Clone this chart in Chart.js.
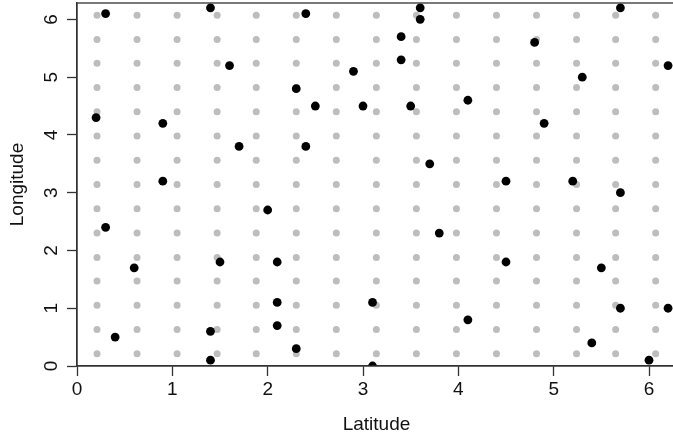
<!DOCTYPE html>
<html>
<head>
<meta charset="utf-8">
<script src="https://cdn.jsdelivr.net/npm/chart.js@4/dist/chart.umd.min.js"></script>
<style>
  html, body { margin: 0; padding: 0; background: #fff; overflow: hidden; }
  #wrap { width: 676px; height: 440px; }
</style>
</head>
<body>
<div id="wrap"><canvas id="plot" width="676" height="440"></canvas></div>
<script>
// puntos observados (latitud, longitud)
var lat = [0.3, 1.4, 1.6, 0.2, 0.9, 1.7, 0.9, 0.3, 0.6, 1.5, 0.4, 1.4, 1.4,
           2.4, 3.6, 3.6, 3.4, 3.4, 2.9, 2.3, 2.5, 3.0, 3.5, 4.1, 2.4, 3.7,
           2.0, 3.8, 2.1, 2.1, 2.1, 2.3, 3.1, 3.1, 4.1,
           5.7, 4.8, 6.2, 5.3, 4.9, 4.5, 5.2, 5.7,
           4.5, 5.5, 5.7, 6.2, 5.4, 6.0];
var lon = [6.1, 6.2, 5.2, 4.3, 4.2, 3.8, 3.2, 2.4, 1.7, 1.8, 0.5, 0.6, 0.1,
           6.1, 6.2, 6.0, 5.7, 5.3, 5.1, 4.8, 4.5, 4.5, 4.5, 4.6, 3.8, 3.5,
           2.7, 2.3, 1.8, 1.1, 0.7, 0.3, 1.1, 0.0, 0.8,
           6.2, 5.6, 5.2, 5.0, 4.2, 3.2, 3.2, 3.0,
           1.8, 1.7, 1.0, 1.0, 0.4, 0.1];

// centros de la rejilla (columnas y filas)
var gridCols = [0.21, 0.63, 1.05, 1.47, 1.88, 2.30, 2.72, 3.14, 3.56, 3.98, 4.40, 4.82, 5.24, 5.65, 6.07];
var gridRows = [0.21, 0.63, 1.05, 1.47, 1.88, 2.30, 2.72, 3.14, 3.56, 3.98, 4.40, 4.82, 5.24, 5.65, 6.07];

var axisMax = 6.2832;

var puntos = lat.map(function (v, i) { return { x: v, y: lon[i] }; });
var rejilla = [];
gridCols.forEach(function (cx) {
    gridRows.forEach(function (cy) { rejilla.push({ x: cx, y: cy }); });
});

var fuente = { family: "'Liberation Sans', Arial, sans-serif", size: 19 };

// quitar el relleno automatico de las escalas
function sinRelleno(s) {
    s.paddingTop = 0; s.paddingBottom = 0; s.paddingLeft = 0; s.paddingRight = 0;
}

// caja alrededor del area de dibujo
var cajaPlugin = {
    id: 'caja',
    afterDatasetsDraw: function (chart) {
        var a = chart.chartArea, c = chart.ctx;
        c.save();
        c.strokeStyle = '#333';
        c.lineWidth = 1.3;
        c.strokeRect(a.left, a.top, a.right - a.left, a.bottom - a.top);
        c.restore();
    }
};

new Chart(document.getElementById('plot').getContext('2d'), {
    type: 'scatter',
    data: {
        datasets: [{
            data: puntos,
            backgroundColor: '#000',
            borderWidth: 0,
            pointRadius: 4.4,
            clip: 0
        }, {
            data: rejilla,
            backgroundColor: '#bdbdbd',
            borderWidth: 0,
            pointRadius: 3.5,
            clip: 0
        }]
    },
    options: {
        responsive: false,
        animation: false,
        layout: { autoPadding: false, padding: { top: 3, right: 0, left: 0, bottom: 0 } },
        plugins: { legend: { display: false }, tooltip: { enabled: false } },
        scales: {
            x: {
                type: 'linear',
                min: 0,
                max: axisMax,
                afterFit: function (s) { s.height = 74; sinRelleno(s); },
                grid: { drawOnChartArea: false, tickLength: 10, tickColor: '#333', tickWidth: 1.3 },
                border: { color: '#333', width: 1.3 },
                ticks: { stepSize: 1, includeBounds: false, color: '#111', font: fuente, padding: 2.6, maxRotation: 0 },
                title: { display: true, text: 'Latitude', color: '#111', font: fuente, padding: { top: 0, bottom: 3.6 } }
            },
            y: {
                type: 'linear',
                min: 0,
                max: axisMax,
                afterFit: function (s) { s.width = 77; sinRelleno(s); },
                grid: { drawOnChartArea: false, tickLength: 10, tickColor: '#333', tickWidth: 1.3 },
                border: { color: '#333', width: 1.3 },
                ticks: { stepSize: 1, includeBounds: false, color: '#111', font: fuente, padding: 9.7, minRotation: 90, maxRotation: 90, crossAlign: 'center' },
                title: { display: true, text: 'Longitude', color: '#111', font: fuente, padding: { top: 6.6, bottom: 0 } }
            }
        }
    },
    plugins: [cajaPlugin]
});
</script>
</body>
</html>
